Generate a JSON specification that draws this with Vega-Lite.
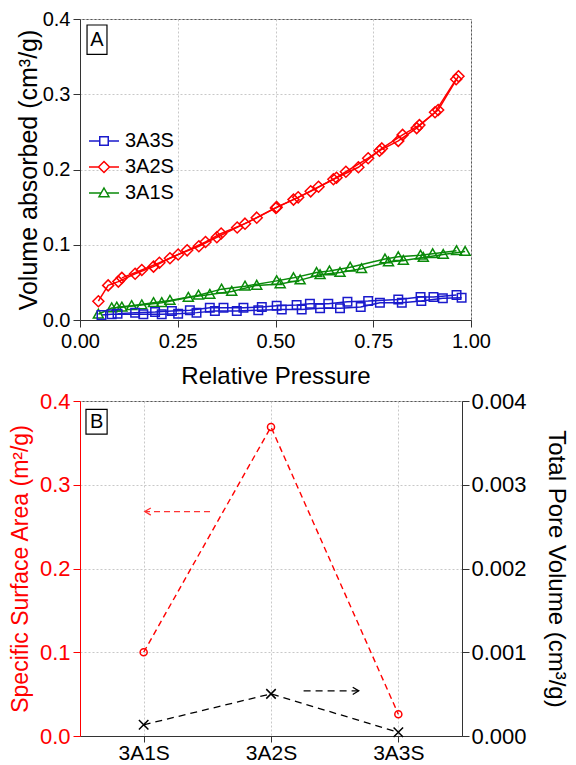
{
  "$schema": "https://vega.github.io/schema/vega-lite/v6.json",
  "padding": {"left": 8, "top": 8, "right": 2, "bottom": 1},
  "background": "white",
  "spacing": 0,
  "align": "none",
  "config": {
    "font": "Liberation Sans",
    "view": {"stroke": "#555", "strokeWidth": 1},
    "axis": {
      "labelFont": "Liberation Sans", "titleFont": "Liberation Sans",
      "labelFontSize": 20, "titleFontSize": 24, "titleFontWeight": "normal",
      "labelColor": "#000", "titleColor": "#000", "domainColor": "#333", "tickColor": "#333",
      "tickSize": 7, "labelPadding": 3,
      "gridColor": "#c8c8c8", "gridDash": [2, 2], "gridWidth": 1
    }
  },
  "datasets": {
    "iso": [
      {"s":"3A2S","b":"a","p":0.047,"v":0.025},{"s":"3A2S","b":"a","p":0.072,"v":0.046},{"s":"3A2S","b":"a","p":0.098,"v":0.051},{"s":"3A2S","b":"a","p":0.141,"v":0.0615},{"s":"3A2S","b":"a","p":0.188,"v":0.0709},{"s":"3A2S","b":"a","p":0.230,"v":0.082},{"s":"3A2S","b":"a","p":0.274,"v":0.0926},{"s":"3A2S","b":"a","p":0.321,"v":0.1037},{"s":"3A2S","b":"a","p":0.361,"v":0.115},{"s":"3A2S","b":"a","p":0.422,"v":0.128},{"s":"3A2S","b":"a","p":0.501,"v":0.149},{"s":"3A2S","b":"a","p":0.546,"v":0.160},{"s":"3A2S","b":"a","p":0.590,"v":0.171},{"s":"3A2S","b":"a","p":0.648,"v":0.187},{"s":"3A2S","b":"a","p":0.680,"v":0.197},{"s":"3A2S","b":"a","p":0.737,"v":0.215},{"s":"3A2S","b":"a","p":0.766,"v":0.225},{"s":"3A2S","b":"a","p":0.814,"v":0.238},{"s":"3A2S","b":"a","p":0.861,"v":0.255},{"s":"3A2S","b":"a","p":0.908,"v":0.276},{"s":"3A2S","b":"a","p":0.962,"v":0.320},
      {"s":"3A2S","b":"d","p":0.968,"v":0.324},{"s":"3A2S","b":"d","p":0.916,"v":0.279},{"s":"3A2S","b":"d","p":0.868,"v":0.259},{"s":"3A2S","b":"d","p":0.825,"v":0.246},{"s":"3A2S","b":"d","p":0.772,"v":0.228},{"s":"3A2S","b":"d","p":0.712,"v":0.203},{"s":"3A2S","b":"d","p":0.656,"v":0.189},{"s":"3A2S","b":"d","p":0.610,"v":0.177},{"s":"3A2S","b":"d","p":0.558,"v":0.163},{"s":"3A2S","b":"d","p":0.503,"v":0.150},{"s":"3A2S","b":"d","p":0.452,"v":0.136},{"s":"3A2S","b":"d","p":0.402,"v":0.123},{"s":"3A2S","b":"d","p":0.350,"v":0.110},{"s":"3A2S","b":"d","p":0.304,"v":0.098},{"s":"3A2S","b":"d","p":0.251,"v":0.087},{"s":"3A2S","b":"d","p":0.203,"v":0.076},{"s":"3A2S","b":"d","p":0.158,"v":0.0665},{"s":"3A2S","b":"d","p":0.107,"v":0.056},
      {"s":"3A1S","b":"a","p":0.047,"v":0.0076},{"s":"3A1S","b":"a","p":0.081,"v":0.016},{"s":"3A1S","b":"a","p":0.107,"v":0.017},{"s":"3A1S","b":"a","p":0.158,"v":0.020},{"s":"3A1S","b":"a","p":0.209,"v":0.023},{"s":"3A1S","b":"a","p":0.277,"v":0.030},{"s":"3A1S","b":"a","p":0.332,"v":0.034},{"s":"3A1S","b":"a","p":0.388,"v":0.038},{"s":"3A1S","b":"a","p":0.452,"v":0.046},{"s":"3A1S","b":"a","p":0.512,"v":0.048},{"s":"3A1S","b":"a","p":0.563,"v":0.053},{"s":"3A1S","b":"a","p":0.614,"v":0.060},{"s":"3A1S","b":"a","p":0.665,"v":0.063},{"s":"3A1S","b":"a","p":0.720,"v":0.068},{"s":"3A1S","b":"a","p":0.789,"v":0.077},{"s":"3A1S","b":"a","p":0.827,"v":0.079},{"s":"3A1S","b":"a","p":0.878,"v":0.083},{"s":"3A1S","b":"a","p":0.929,"v":0.087},{"s":"3A1S","b":"a","p":0.985,"v":0.091},
      {"s":"3A1S","b":"d","p":0.963,"v":0.092},{"s":"3A1S","b":"d","p":0.902,"v":0.088},{"s":"3A1S","b":"d","p":0.871,"v":0.086},{"s":"3A1S","b":"d","p":0.814,"v":0.084},{"s":"3A1S","b":"d","p":0.780,"v":0.081},{"s":"3A1S","b":"d","p":0.691,"v":0.070},{"s":"3A1S","b":"d","p":0.638,"v":0.065},{"s":"3A1S","b":"d","p":0.605,"v":0.063},{"s":"3A1S","b":"d","p":0.546,"v":0.056},{"s":"3A1S","b":"d","p":0.503,"v":0.052},{"s":"3A1S","b":"d","p":0.422,"v":0.045},{"s":"3A1S","b":"d","p":0.362,"v":0.041},{"s":"3A1S","b":"d","p":0.303,"v":0.033},{"s":"3A1S","b":"d","p":0.230,"v":0.026},{"s":"3A1S","b":"d","p":0.188,"v":0.023},{"s":"3A1S","b":"d","p":0.132,"v":0.019},{"s":"3A1S","b":"d","p":0.094,"v":0.017},
      {"s":"3A3S","b":"a","p":0.055,"v":0.0066},{"s":"3A3S","b":"a","p":0.081,"v":0.0075},{"s":"3A3S","b":"a","p":0.162,"v":0.0075},{"s":"3A3S","b":"a","p":0.209,"v":0.0075},{"s":"3A3S","b":"a","p":0.251,"v":0.0084},{"s":"3A3S","b":"a","p":0.298,"v":0.0098},{"s":"3A3S","b":"a","p":0.345,"v":0.012},{"s":"3A3S","b":"a","p":0.401,"v":0.012},{"s":"3A3S","b":"a","p":0.456,"v":0.0129},{"s":"3A3S","b":"a","p":0.516,"v":0.014},{"s":"3A3S","b":"a","p":0.567,"v":0.014},{"s":"3A3S","b":"a","p":0.614,"v":0.0155},{"s":"3A3S","b":"a","p":0.665,"v":0.0155},{"s":"3A3S","b":"a","p":0.718,"v":0.0173},{"s":"3A3S","b":"a","p":0.767,"v":0.023},{"s":"3A3S","b":"a","p":0.823,"v":0.023},{"s":"3A3S","b":"a","p":0.873,"v":0.0252},{"s":"3A3S","b":"a","p":0.928,"v":0.0288},{"s":"3A3S","b":"a","p":0.976,"v":0.0296},
      {"s":"3A3S","b":"d","p":0.963,"v":0.0332},{"s":"3A3S","b":"d","p":0.904,"v":0.0306},{"s":"3A3S","b":"d","p":0.871,"v":0.0306},{"s":"3A3S","b":"d","p":0.814,"v":0.0274},{"s":"3A3S","b":"d","p":0.737,"v":0.0252},{"s":"3A3S","b":"d","p":0.684,"v":0.0243},{"s":"3A3S","b":"d","p":0.635,"v":0.0217},{"s":"3A3S","b":"d","p":0.588,"v":0.0217},{"s":"3A3S","b":"d","p":0.554,"v":0.020},{"s":"3A3S","b":"d","p":0.503,"v":0.019},{"s":"3A3S","b":"d","p":0.465,"v":0.0173},{"s":"3A3S","b":"d","p":0.418,"v":0.0164},{"s":"3A3S","b":"d","p":0.367,"v":0.0164},{"s":"3A3S","b":"d","p":0.332,"v":0.0164},{"s":"3A3S","b":"d","p":0.281,"v":0.0129},{"s":"3A3S","b":"d","p":0.235,"v":0.012},{"s":"3A3S","b":"d","p":0.192,"v":0.0106},{"s":"3A3S","b":"d","p":0.141,"v":0.0098},{"s":"3A3S","b":"d","p":0.096,"v":0.0084}
    ],
    "samples": [
      {"s":"3A1S","x":1,"ssa":0.100,"tpv":0.000134},
      {"s":"3A2S","x":2,"ssa":0.369,"tpv":0.000503},
      {"s":"3A3S","x":3,"ssa":0.026,"tpv":0.000044}
    ],
    "redArrow": [{"x1":1.521,"x2":1.009,"y":0.268}],
    "blackArrow": [{"x1":2.256,"x2":2.689,"y":0.000539}],
    "boxA": [{"x1": 0.018, "x2": 0.069, "y1": 0.353, "y2": 0.392, "t": "A", "xc": 0.0435, "yc": 0.3725}],
    "boxB": [{"x1": 0.547, "x2": 0.713, "y1": 0.3604, "y2": 0.390, "t": "B", "xc": 0.63, "yc": 0.375}]
  },
  "vconcat": [
    {
      "width": 391,
      "height": 301,
      "layer": [
        {
          "data": {"name": "iso"},
          "mark": {"type": "line", "strokeWidth": 1.5},
          "encoding": {
            "x": {"field": "p", "type": "quantitative", "scale": {"domain": [0, 1]},
                  "axis": {"values": [0, 0.25, 0.5, 0.75, 1], "format": ".2f", "title": "Relative Pressure", "titlePadding": 13, "labelPadding": 4, "grid": true, "labelFlush": false}},
            "y": {"field": "v", "type": "quantitative", "scale": {"domain": [0, 0.4]},
                  "axis": {"values": [0, 0.1, 0.2, 0.3, 0.4], "format": ".1f", "title": "Volume absorbed (cm³/g)", "titleFontSize": 25, "titlePadding": 1, "grid": true, "labelFlush": false}},
            "color": {"field": "s", "type": "nominal", "scale": {"domain": ["3A3S", "3A2S", "3A1S"], "range": ["#1a1acc", "#ff0000", "#0a8a0a"]}, "legend": null},
            "detail": {"field": "b"}
          }
        },
        {
          "data": {"name": "iso"},
          "mark": {"type": "point", "filled": false, "strokeWidth": 1.5, "size": 100, "opacity": 1},
          "encoding": {
            "x": {"field": "p", "type": "quantitative", "scale": {"domain": [0, 1]},
                  "axis": {"values": [0, 0.25, 0.5, 0.75, 1], "format": ".2f", "title": "Relative Pressure", "titlePadding": 13, "labelPadding": 4, "grid": true, "labelFlush": false}},
            "y": {"field": "v", "type": "quantitative", "scale": {"domain": [0, 0.4]},
                  "axis": {"values": [0, 0.1, 0.2, 0.3, 0.4], "format": ".1f", "title": "Volume absorbed (cm³/g)", "titleFontSize": 25, "titlePadding": 1, "grid": true, "labelFlush": false}},
            "color": {"field": "s", "type": "nominal", "scale": {"domain": ["3A3S", "3A2S", "3A1S"], "range": ["#1a1acc", "#ff0000", "#0a8a0a"]}, "legend": null},
            "shape": {"field": "s", "type": "nominal", "scale": {"domain": ["3A3S", "3A2S", "3A1S"], "range": ["M-0.85,-0.85H0.85V0.85H-0.85Z", "M0,-1.1L1.1,0L0,1.1L-1.1,0Z", "M0,-1L1,0.75L-1,0.75Z"]}, "legend": null}
          }
        },
        {
          "data": {"name": "iso"},
          "mark": {"type": "point", "filled": false, "strokeWidth": 1.5, "size": 100, "opacity": 0},
          "encoding": {
            "x": {"field": "p", "type": "quantitative", "scale": {"domain": [0, 1]},
                  "axis": {"values": [0, 0.25, 0.5, 0.75, 1], "format": ".2f", "title": "Relative Pressure", "titlePadding": 13, "labelPadding": 4, "grid": true, "labelFlush": false}},
            "y": {"field": "v", "type": "quantitative", "scale": {"domain": [0, 0.4]},
                  "axis": {"values": [0, 0.1, 0.2, 0.3, 0.4], "format": ".1f", "title": "Volume absorbed (cm³/g)", "titleFontSize": 25, "titlePadding": 1, "grid": true, "labelFlush": false}},
            "color": {"field": "s", "type": "nominal", "scale": {"domain": ["3A3S", "3A2S", "3A1S"], "range": ["#1a1acc", "#ff0000", "#0a8a0a"]},
                      "legend": {"orient": "none", "legendX": 14, "legendY": 112, "title": null, "labelFont": "Liberation Sans", "labelFontSize": 20, "labelColor": "#000", "symbolSize": 100, "symbolStrokeWidth": 1.5, "symbolOpacity": 1, "symbolFillColor": "transparent", "labelOffset": 11, "rowPadding": 6, "padding": 0}},
            "shape": {"field": "s", "type": "nominal", "scale": {"domain": ["3A3S", "3A2S", "3A1S"], "range": ["M-3,0H-0.85M0.85,0H3M-0.85,-0.85H0.85V0.85H-0.85Z", "M-3,0H-1.1M1.1,0H3M0,-1.1L1.1,0L0,1.1L-1.1,0Z", "M-3,0H-0.57M0.57,0H3M0,-1L1,0.75L-1,0.75Z"]},
                      "legend": {"orient": "none", "legendX": 14, "legendY": 112, "title": null, "labelFont": "Liberation Sans", "labelFontSize": 20, "labelColor": "#000", "symbolSize": 100, "symbolStrokeWidth": 1.5, "symbolOpacity": 1, "symbolFillColor": "transparent", "labelOffset": 11, "rowPadding": 6, "padding": 0}}
          }
        },
        {
          "data": {"name": "boxA"},
          "mark": {"type": "rect", "fill": "white", "stroke": "#000", "strokeWidth": 1.2},
          "encoding": {
            "x": {"field": "x1", "type": "quantitative", "scale": {"domain": [0, 1]},
                  "axis": {"values": [0, 0.25, 0.5, 0.75, 1], "format": ".2f", "title": "Relative Pressure", "titlePadding": 13, "labelPadding": 4, "grid": true, "labelFlush": false}},
            "x2": {"field": "x2"},
            "y": {"field": "y1", "type": "quantitative", "scale": {"domain": [0, 0.4]},
                  "axis": {"values": [0, 0.1, 0.2, 0.3, 0.4], "format": ".1f", "title": "Volume absorbed (cm³/g)", "titleFontSize": 25, "titlePadding": 1, "grid": true, "labelFlush": false}},
            "y2": {"field": "y2"}
          }
        },
        {
          "data": {"name": "boxA"},
          "mark": {"type": "text", "fontSize": 20, "font": "Liberation Sans", "align": "center", "baseline": "middle", "color": "#000"},
          "encoding": {
            "x": {"field": "xc", "type": "quantitative", "scale": {"domain": [0, 1]},
                  "axis": {"values": [0, 0.25, 0.5, 0.75, 1], "format": ".2f", "title": "Relative Pressure", "titlePadding": 13, "labelPadding": 4, "grid": true, "labelFlush": false}},
            "y": {"field": "yc", "type": "quantitative", "scale": {"domain": [0, 0.4]},
                  "axis": {"values": [0, 0.1, 0.2, 0.3, 0.4], "format": ".1f", "title": "Volume absorbed (cm³/g)", "titleFontSize": 25, "titlePadding": 1, "grid": true, "labelFlush": false}},
            "text": {"field": "t"}
          }
        }
      ],
      "resolve": {"scale": {"color": "independent", "shape": "independent"}}
    },
    {
      "width": 382,
      "height": 335,
      "layer": [
        {
          "layer": [
            {
              "data": {"name": "samples"},
              "mark": {"type": "line", "color": "#ff0000", "strokeWidth": 1.4, "strokeDash": [6, 4]},
              "encoding": {
                "x": {"field": "x", "type": "quantitative", "scale": {"domain": [0.5, 3.5]},
                      "axis": {"values": [1, 2, 3], "labelExpr": "datum.value == 1 ? '3A1S' : datum.value == 2 ? '3A2S' : '3A3S'", "title": null, "grid": true, "labelPadding": 0, "tickSize": 6, "labelFontSize": 21}},
                "y": {"field": "ssa", "type": "quantitative", "scale": {"domain": [0, 0.4]},
                      "axis": {"orient": "left", "values": [0, 0.1, 0.2, 0.3, 0.4], "format": ".1f", "title": "Specific Surface Area (m²/g)", "titleFontSize": 23, "titlePadding": 7, "labelFontSize": 22, "grid": true, "labelFlush": false, "labelColor": "#ff0000", "titleColor": "#ff0000", "domainColor": "#ff0000", "tickColor": "#ff0000"}}
              }
            },
            {
              "data": {"name": "samples"},
              "mark": {"type": "point", "shape": "circle", "filled": false, "color": "#ff0000", "size": 50, "strokeWidth": 1.5, "opacity": 1},
              "encoding": {
                "x": {"field": "x", "type": "quantitative", "scale": {"domain": [0.5, 3.5]},
                      "axis": {"values": [1, 2, 3], "labelExpr": "datum.value == 1 ? '3A1S' : datum.value == 2 ? '3A2S' : '3A3S'", "title": null, "grid": true, "labelPadding": 0, "tickSize": 6, "labelFontSize": 21}},
                "y": {"field": "ssa", "type": "quantitative", "scale": {"domain": [0, 0.4]},
                      "axis": {"orient": "left", "values": [0, 0.1, 0.2, 0.3, 0.4], "format": ".1f", "title": "Specific Surface Area (m²/g)", "titleFontSize": 23, "titlePadding": 7, "labelFontSize": 22, "grid": true, "labelFlush": false, "labelColor": "#ff0000", "titleColor": "#ff0000", "domainColor": "#ff0000", "tickColor": "#ff0000"}}
              }
            },
            {
              "data": {"name": "redArrow"},
              "mark": {"type": "rule", "color": "#ff3333", "strokeWidth": 1.3, "strokeDash": [6, 4]},
              "encoding": {
                "x": {"field": "x1", "type": "quantitative", "scale": {"domain": [0.5, 3.5]},
                      "axis": {"values": [1, 2, 3], "labelExpr": "datum.value == 1 ? '3A1S' : datum.value == 2 ? '3A2S' : '3A3S'", "title": null, "grid": true, "labelPadding": 0, "tickSize": 6, "labelFontSize": 21}},
                "x2": {"field": "x2"},
                "y": {"field": "y", "type": "quantitative", "scale": {"domain": [0, 0.4]},
                      "axis": {"orient": "left", "values": [0, 0.1, 0.2, 0.3, 0.4], "format": ".1f", "title": "Specific Surface Area (m²/g)", "titleFontSize": 23, "titlePadding": 7, "labelFontSize": 22, "grid": true, "labelFlush": false, "labelColor": "#ff0000", "titleColor": "#ff0000", "domainColor": "#ff0000", "tickColor": "#ff0000"}}
              }
            },
            {
              "data": {"name": "redArrow"},
              "mark": {"type": "point", "shape": "M2,-1.2L0,0L2,1.2", "filled": false, "color": "#ff3333", "size": 36, "strokeWidth": 1.3, "opacity": 1},
              "encoding": {
                "x": {"field": "x2", "type": "quantitative", "scale": {"domain": [0.5, 3.5]},
                      "axis": {"values": [1, 2, 3], "labelExpr": "datum.value == 1 ? '3A1S' : datum.value == 2 ? '3A2S' : '3A3S'", "title": null, "grid": true, "labelPadding": 0, "tickSize": 6, "labelFontSize": 21}},
                "y": {"field": "y", "type": "quantitative", "scale": {"domain": [0, 0.4]},
                      "axis": {"orient": "left", "values": [0, 0.1, 0.2, 0.3, 0.4], "format": ".1f", "title": "Specific Surface Area (m²/g)", "titleFontSize": 23, "titlePadding": 7, "labelFontSize": 22, "grid": true, "labelFlush": false, "labelColor": "#ff0000", "titleColor": "#ff0000", "domainColor": "#ff0000", "tickColor": "#ff0000"}}
              }
            },
            {
              "data": {"name": "boxB"},
              "mark": {"type": "rect", "fill": "white", "stroke": "#000", "strokeWidth": 1.2},
              "encoding": {
                "x": {"field": "x1", "type": "quantitative", "scale": {"domain": [0.5, 3.5]},
                      "axis": {"values": [1, 2, 3], "labelExpr": "datum.value == 1 ? '3A1S' : datum.value == 2 ? '3A2S' : '3A3S'", "title": null, "grid": true, "labelPadding": 0, "tickSize": 6, "labelFontSize": 21}},
                "x2": {"field": "x2"},
                "y": {"field": "y1", "type": "quantitative", "scale": {"domain": [0, 0.4]},
                      "axis": {"orient": "left", "values": [0, 0.1, 0.2, 0.3, 0.4], "format": ".1f", "title": "Specific Surface Area (m²/g)", "titleFontSize": 23, "titlePadding": 7, "labelFontSize": 22, "grid": true, "labelFlush": false, "labelColor": "#ff0000", "titleColor": "#ff0000", "domainColor": "#ff0000", "tickColor": "#ff0000"}},
                "y2": {"field": "y2"}
              }
            },
            {
              "data": {"name": "boxB"},
              "mark": {"type": "text", "fontSize": 20, "font": "Liberation Sans", "align": "center", "baseline": "middle", "color": "#000"},
              "encoding": {
                "x": {"field": "xc", "type": "quantitative", "scale": {"domain": [0.5, 3.5]},
                      "axis": {"values": [1, 2, 3], "labelExpr": "datum.value == 1 ? '3A1S' : datum.value == 2 ? '3A2S' : '3A3S'", "title": null, "grid": true, "labelPadding": 0, "tickSize": 6, "labelFontSize": 21}},
                "y": {"field": "yc", "type": "quantitative", "scale": {"domain": [0, 0.4]},
                      "axis": {"orient": "left", "values": [0, 0.1, 0.2, 0.3, 0.4], "format": ".1f", "title": "Specific Surface Area (m²/g)", "titleFontSize": 23, "titlePadding": 7, "labelFontSize": 22, "grid": true, "labelFlush": false, "labelColor": "#ff0000", "titleColor": "#ff0000", "domainColor": "#ff0000", "tickColor": "#ff0000"}},
                "text": {"field": "t"}
              }
            }
          ]
        },
        {
          "layer": [
            {
              "data": {"name": "samples"},
              "mark": {"type": "line", "color": "#000", "strokeWidth": 1.3, "strokeDash": [7, 5]},
              "encoding": {
                "x": {"field": "x", "type": "quantitative", "scale": {"domain": [0.5, 3.5]},
                      "axis": {"values": [1, 2, 3], "labelExpr": "datum.value == 1 ? '3A1S' : datum.value == 2 ? '3A2S' : '3A3S'", "title": null, "grid": true, "labelPadding": 0, "tickSize": 6, "labelFontSize": 21}},
                "y": {"field": "tpv", "type": "quantitative", "scale": {"domain": [0, 0.004]},
                      "axis": {"orient": "right", "values": [0, 0.001, 0.002, 0.003, 0.004], "format": ".3f", "title": "Total Pore Volume (cm³/g)", "titlePadding": 17, "labelFontSize": 22, "grid": false, "labelFlush": false, "labelPadding": 2}}
              }
            },
            {
              "data": {"name": "samples"},
              "mark": {"type": "point", "shape": "M-1,-1L1,1M1,-1L-1,1", "filled": false, "color": "#000", "size": 90, "strokeWidth": 1.5, "opacity": 1},
              "encoding": {
                "x": {"field": "x", "type": "quantitative", "scale": {"domain": [0.5, 3.5]},
                      "axis": {"values": [1, 2, 3], "labelExpr": "datum.value == 1 ? '3A1S' : datum.value == 2 ? '3A2S' : '3A3S'", "title": null, "grid": true, "labelPadding": 0, "tickSize": 6, "labelFontSize": 21}},
                "y": {"field": "tpv", "type": "quantitative", "scale": {"domain": [0, 0.004]},
                      "axis": {"orient": "right", "values": [0, 0.001, 0.002, 0.003, 0.004], "format": ".3f", "title": "Total Pore Volume (cm³/g)", "titlePadding": 17, "labelFontSize": 22, "grid": false, "labelFlush": false, "labelPadding": 2}}
              }
            },
            {
              "data": {"name": "blackArrow"},
              "mark": {"type": "rule", "color": "#000", "strokeWidth": 1.3, "strokeDash": [7, 5]},
              "encoding": {
                "x": {"field": "x1", "type": "quantitative", "scale": {"domain": [0.5, 3.5]},
                      "axis": {"values": [1, 2, 3], "labelExpr": "datum.value == 1 ? '3A1S' : datum.value == 2 ? '3A2S' : '3A3S'", "title": null, "grid": true, "labelPadding": 0, "tickSize": 6, "labelFontSize": 21}},
                "x2": {"field": "x2"},
                "y": {"field": "y", "type": "quantitative", "scale": {"domain": [0, 0.004]},
                      "axis": {"orient": "right", "values": [0, 0.001, 0.002, 0.003, 0.004], "format": ".3f", "title": "Total Pore Volume (cm³/g)", "titlePadding": 17, "labelFontSize": 22, "grid": false, "labelFlush": false, "labelPadding": 2}}
              }
            },
            {
              "data": {"name": "blackArrow"},
              "mark": {"type": "point", "shape": "M-2,-1.2L0,0L-2,1.2", "filled": false, "color": "#000", "size": 36, "strokeWidth": 1.3, "opacity": 1},
              "encoding": {
                "x": {"field": "x2", "type": "quantitative", "scale": {"domain": [0.5, 3.5]},
                      "axis": {"values": [1, 2, 3], "labelExpr": "datum.value == 1 ? '3A1S' : datum.value == 2 ? '3A2S' : '3A3S'", "title": null, "grid": true, "labelPadding": 0, "tickSize": 6, "labelFontSize": 21}},
                "y": {"field": "y", "type": "quantitative", "scale": {"domain": [0, 0.004]},
                      "axis": {"orient": "right", "values": [0, 0.001, 0.002, 0.003, 0.004], "format": ".3f", "title": "Total Pore Volume (cm³/g)", "titlePadding": 17, "labelFontSize": 22, "grid": false, "labelFlush": false, "labelPadding": 2}}
              }
            }
          ]
        }
      ],
      "resolve": {"scale": {"y": "independent"}}
    }
  ]
}
